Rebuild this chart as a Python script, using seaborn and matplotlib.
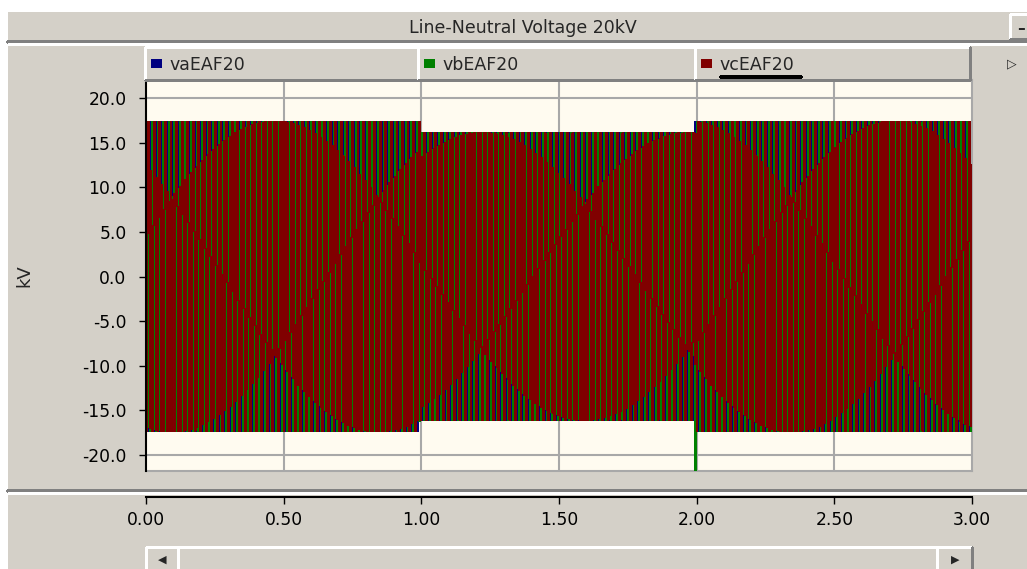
import numpy as np
import pandas as pd
import matplotlib
matplotlib.use("Agg")
import matplotlib.pyplot as plt
import seaborn as sns
from matplotlib.patches import Rectangle
from matplotlib.lines import Line2D

# ---- recorded traces (kV) ------------------------------------------------
traces = ["vaEAF20", "vbEAF20", "vcEAF20"]
trace_colors = ["#000080", "#008000", "#800000"]
trace_phase_deg = [135.0, 15.0, 255.0]          # phase at t = 0
segment_edges_s = [0.0, 0.993, 1.993, 3.0]       # source switching instants
segment_peak_kv = [17.4, 16.1, 17.4]             # phase peak per segment
frequency_hz = 50.0
display_columns = 446                             # screen columns of the scope
samples_per_column = 24
transient_t = [1.993]                             # switching spike on phase b
transient_vb = [-23.0]

y_ticks = [-20.0, -15.0, -10.0, -5.0, 0.0, 5.0, 10.0, 15.0, 20.0]
x_ticks = [0.0, 0.5, 1.0, 1.5, 2.0, 2.5, 3.0]
title = "Line-Neutral Voltage 20kV"

# ---- sampled waveforms ----------------------------------------------------
n_dense = display_columns * samples_per_column + 1
t = np.linspace(segment_edges_s[0], segment_edges_s[-1], n_dense)
seg = np.searchsorted(segment_edges_s[1:-1], t, side="right")
amp = np.asarray(segment_peak_kv)[seg]
wave = {}
for name, ph in zip(traces, trace_phase_deg):
    v = amp * np.sin(2 * np.pi * frequency_hz * t + np.deg2rad(ph))
    if name == "vbEAF20":
        for tt, vv in zip(transient_t, transient_vb):
            v[np.argmin(np.abs(t - tt))] = vv
    wave[name] = v

# per-column extent of each trace, as the scope paints it
col_edges = np.linspace(segment_edges_s[0], segment_edges_s[-1],
                        display_columns + 1)
rows = []
for name in traces:
    v = wave[name]
    for j in range(display_columns):
        chunk = v[j * samples_per_column:(j + 1) * samples_per_column + 1]
        rows.append((name, col_edges[j], chunk.min(), chunk.max()))
env = pd.DataFrame(rows, columns=["trace", "t0", "lo", "hi"])

# ---- figure in pixel units -------------------------------------------------
sns.set_style("white")
plt.rcParams["font.family"] = ["DejaVu Sans"]
W, H = 1027, 569
def fx(px):
    return px / W
def fy(py):
    return 1 - py / H

GRAY = "#d4d0c8"
DARK = "#808080"
palette = dict(zip(traces, sns.color_palette(trace_colors)))
fig = plt.figure(figsize=(W / 100, H / 100), dpi=100, facecolor="white")

def frect(x0, y0, x1, y1, **kw):
    r = Rectangle((fx(x0), fy(y1)), fx(x1) - fx(x0), fy(y0) - fy(y1),
                  transform=fig.transFigure, **kw)
    fig.add_artist(r)
    return r

def fline(x0, y0, x1, y1, color, lw=1.0):
    fig.add_artist(Line2D([fx(x0), fx(x1)], [fy(y0), fy(y1)], color=color,
                          lw=lw, transform=fig.transFigure, antialiased=False))

def bevel(x0, y0, x1, y1):
    frect(x0, y0, x1, y1, facecolor=GRAY, edgecolor="none", zorder=1)
    fline(x0, y0, x1, y0, "white")
    fline(x0, y0, x0, y1, "white")
    fline(x0, y1, x1, y1, DARK)
    fline(x1, y0, x1, y1, DARK)

# window background
frect(8, 12, W, H, facecolor=GRAY, edgecolor="none", zorder=0)
fline(8, 42, W, 42, DARK, 1.5)
fline(8, 44, W, 44, "white", 1.0)
fline(8, 491, W, 491, DARK, 1.5)
fline(8, 493, W, 493, "white", 1.0)

fig.text(fx(523), fy(28), title, ha="center", va="center", fontsize=12.5)

# minimise button
bevel(1010, 14, 1030, 39)
fig.text(fx(1021), fy(28), "\u2013", ha="center", va="center", fontsize=11,
         fontweight="bold")

# legend tabs
tab_edges = [145, 418, 695, 970]
for i, name in enumerate(traces):
    x0, x1 = tab_edges[i], tab_edges[i + 1]
    bevel(x0, 47, x1, 80)
    frect(x0 + 6, 59, x0 + 17, 68, facecolor=palette[name], edgecolor="none",
          zorder=2)
    fig.text(fx(x0 + 24), fy(64.5), name, ha="left", va="center",
             fontsize=12.5, zorder=3)
fline(721, 76.5, 801, 76.5, "black", 1.5)
fig.text(fx(1012), fy(64), "\u25b7", ha="center", va="center", fontsize=9)

# ---- main plot -------------------------------------------------------------
ax = fig.add_axes([fx(146), fy(471), (972 - 146) / W, (471 - 80) / H])
ax.set_facecolor("#fffbf0")
for xv in np.arange(0.5, 3.0, 0.5):
    ax.axvline(xv, color="#a8a8a8", lw=1.5, zorder=0.5)
for yv in (-20, 20):
    ax.axhline(yv, color="#a8a8a8", lw=1.5, zorder=0.5)

for k, name in enumerate(traces):
    d = env[env["trace"] == name]
    x = np.r_[d["t0"].to_numpy(), col_edges[-1]]
    lo = np.r_[d["lo"].to_numpy(), d["lo"].iloc[-1]]
    hi = np.r_[d["hi"].to_numpy(), d["hi"].iloc[-1]]
    ax.fill_between(x, lo, hi, step="post", facecolor=palette[name],
                    edgecolor="none", linewidth=0, antialiased=False,
                    zorder=2 + k)

ax.set_xlim(0, 3)
ax.set_ylim(-21.79, 22.02)
ax.set_xticks([])
ax.set_yticks(y_ticks)
ax.set_yticklabels([f"{v:.1f}" for v in y_ticks])
ax.tick_params(axis="y", direction="out", length=5, width=1, colors="black",
               labelsize=12.3, pad=9, left=True)
ax.set_xlabel("")
ax.set_ylabel("kV", fontsize=13)
ax.yaxis.set_label_coords((33 - 146) / 826, 0.5)
for side in ("top", "right", "bottom"):
    ax.spines[side].set_color("#a8a8a8")
    ax.spines[side].set_linewidth(1.5)
ax.spines["left"].set_color("black")
ax.spines["left"].set_linewidth(1.5)
ax.spines["left"].set_zorder(10)

# ---- time axis strip -------------------------------------------------------
ax2 = fig.add_axes([fx(146), fy(497), (972 - 146) / W, 0.0005])
ax2.patch.set_visible(False)
for side in ("top", "right", "left"):
    ax2.spines[side].set_visible(False)
ax2.spines["bottom"].set_color("black")
ax2.spines["bottom"].set_linewidth(1.5)
ax2.set_xlim(0, 3)
ax2.set_yticks([])
ax2.set_xticks(x_ticks)
ax2.set_xticklabels([f"{v:.2f}" for v in x_ticks])
ax2.tick_params(axis="x", direction="out", length=5, width=1, colors="black",
                labelsize=12.3, pad=5, bottom=True)

# ---- scroll bar ------------------------------------------------------------
bevel(146, 547, 178, 575)
bevel(178, 547, 937, 575)
bevel(937, 547, 972, 575)
fig.text(fx(162), fy(560), "\u25c0", ha="center", va="center", fontsize=8)
fig.text(fx(955), fy(560), "\u25b6", ha="center", va="center", fontsize=8)

fig.savefig("out.png", dpi=100, facecolor=fig.get_facecolor())
